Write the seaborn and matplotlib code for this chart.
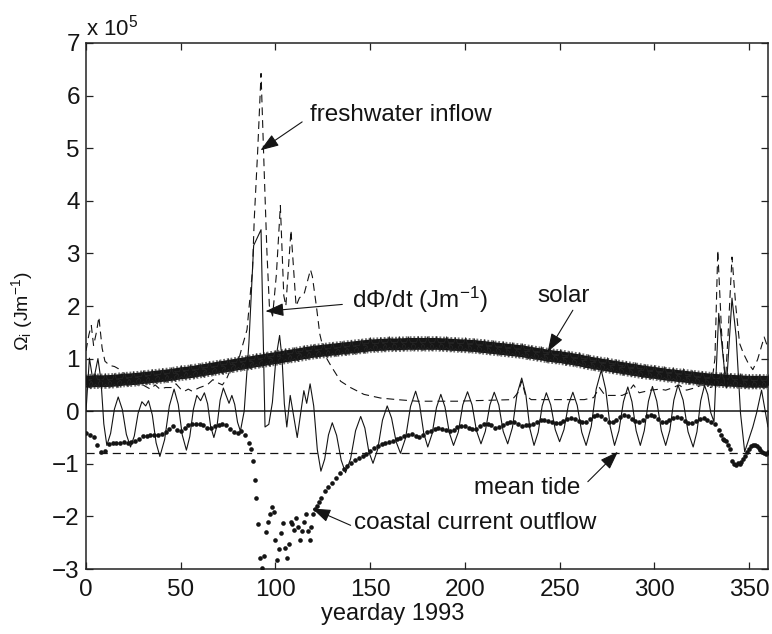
import numpy as np
import matplotlib
matplotlib.use("Agg")
import matplotlib.pyplot as plt
from matplotlib.ticker import FixedLocator, FuncFormatter
import seaborn as sns

# All series below are in units of 1e5 J/m
SCALE = 1e5

# Solar heating term, sampled every 5 days
solar_day = list(range(0, 361, 5))
solar_val = [0.56, 0.57, 0.57, 0.58, 0.60, 0.61, 0.63, 0.65, 0.67, 0.69,
             0.72, 0.74, 0.77, 0.80, 0.83, 0.86, 0.89, 0.92, 0.95, 0.98,
             1.01, 1.04, 1.07, 1.10, 1.13, 1.15, 1.17, 1.19, 1.21, 1.23,
             1.25, 1.26, 1.27, 1.27, 1.28, 1.28, 1.28, 1.28, 1.27, 1.26,
             1.25, 1.24, 1.22, 1.20, 1.18, 1.16, 1.14, 1.11, 1.08, 1.05,
             1.03, 1.00, 0.97, 0.93, 0.90, 0.87, 0.84, 0.81, 0.78, 0.75,
             0.73, 0.70, 0.68, 0.66, 0.64, 0.62, 0.60, 0.59, 0.58, 0.57,
             0.56, 0.56, 0.56]

# Rate of change of potential energy anomaly, dPhi/dt
phi_points = [
    (0, 0.0), (1.8, 1.01), (3.8, 0.55), (6.3, 1.0), (7.9, 0.59), (9.4, -0.24),
    (11, -0.65), (13, -0.42), (15, 0.04), (17, 0.27), (19.2, 0.03), (21.3, -0.44),
    (23.5, -0.68), (25.5, -0.47), (27.5, -0.04), (29.5, 0.18), (31.5, 0.1), (33, 0.2),
    (35, -0.07), (37, -0.6), (39, -0.86), (41.5, -0.54), (44, 0.1), (46.5, 0.42),
    (48.7, 0.13), (50.8, -0.45), (53, -0.74), (54.8, -0.48), (56.7, 0.04), (58.5, 0.3),
    (60.5, 0.2), (62.5, 0.35), (64.2, 0.14), (65.8, -0.29), (67.5, -0.5), (69.2, -0.27),
    (70.8, 0.21), (72.5, 0.44), (75.5, 0.15), (77, 0.3), (78.5, 0.13), (80, -0.21),
    (81.5, -0.38), (83.5, 0.0), (86, 1.3), (88.5, 3.15), (92.4, 3.45), (94.5, -0.3),
    (96.5, -0.25), (98.4, 0.17), (100.3, 1.02), (102.2, 1.44), (103.5, 1.0), (104.7, 0.14),
    (106, -0.3), (107.8, 0.3), (111.5, -0.5), (115, 0.39), (116.5, 0.15), (118.3, 0.52),
    (120.2, 0.1), (122.1, -0.73), (124, -1.14), (126, -0.91), (128, -0.45), (130, -0.22),
    (132.3, -0.46), (134.7, -0.93), (137, -1.17), (139.7, -0.9), (142.3, -0.37), (145, -0.1),
    (147.2, -0.32), (149.3, -0.77), (151.5, -0.99), (154, -0.72), (156.5, -0.17), (159, 0.1),
    (161.3, -0.13), (163.7, -0.58), (166, -0.8), (168.7, -0.51), (171.3, 0.09), (174, 0.38),
    (176.1, 0.12), (178.3, -0.42), (180.4, -0.68), (182.7, -0.43), (185, 0.07), (187.3, 0.32),
    (189.5, 0.08), (191.8, -0.41), (194, -0.65), (196.5, -0.4), (198.9, 0.12), (201.4, 0.37),
    (203.8, 0.12), (206.1, -0.37), (208.5, -0.62), (210.8, -0.38), (213.2, 0.12), (215.5, 0.36),
    (217.9, 0.12), (220.2, -0.38), (222.6, -0.62), (225.1, -0.31), (227.5, 0.32), (230, 0.63),
    (232.2, 0.31), (234.3, -0.33), (236.5, -0.65), (238.7, -0.4), (240.8, 0.1), (243, 0.35),
    (245.3, 0.12), (247.7, -0.35), (250, -0.58), (252.3, -0.35), (254.7, 0.13), (257, 0.36),
    (259.3, 0.11), (261.7, -0.4), (264, -0.65), (266.7, -0.29), (269.3, 0.42), (272, 0.78),
    (274.3, 0.42), (276.7, -0.29), (279, -0.65), (281.3, -0.37), (283.7, 0.18), (286, 0.46),
    (288.2, 0.18), (290.4, -0.37), (292.6, -0.65), (294.7, -0.37), (296.9, 0.19), (299, 0.47),
    (301.3, 0.19), (303.7, -0.37), (306, -0.65), (308.2, -0.36), (310.3, 0.21), (312.5, 0.5),
    (315.2, 0.21), (317.8, -0.39), (320.5, -0.68), (322.5, -0.39), (324.5, 0.2), (326.5, 0.49),
    (328.2, 0.32), (329.8, -0.03), (331.5, -0.2), (334, 1.86), (338, 0.44), (341, 2.15),
    (343.2, 1.42), (345.5, -0.04), (347.7, -0.77), (352, -0.3), (354, -0.03), (356.6, 0.4),
    (360, -0.3),
]

# Freshwater inflow (buoyancy input from river discharge)
fw_points = [
    (0, 1.15), (1.5, 1.45), (2.8, 1.63), (4, 1.25), (5.5, 1.5), (6.8, 1.79), (8.5, 1.2),
    (10, 0.95), (12.5, 0.87), (15, 0.85), (17, 0.81), (19, 0.68), (22, 0.6), (26, 0.58),
    (30, 0.5), (34, 0.42), (36.5, 0.5), (39, 0.42), (42, 0.45), (45, 0.45), (47.5, 0.52),
    (50, 0.42), (52, 0.38), (54, 0.42), (56, 0.38), (60, 0.45), (64, 0.5), (67, 0.6),
    (69, 0.55), (72, 0.5), (74, 0.6), (77, 0.85), (80, 0.9), (82, 1.17), (85, 1.55),
    (87.9, 2.69), (88.8, 3.64), (90.6, 4.93), (92.4, 6.42), (94.1, 4.52), (95.5, 3.03),
    (96.8, 2.0), (98.5, 1.81), (100.5, 2.6), (102.6, 3.91), (104.4, 2.2), (105.5, 2.0),
    (108.2, 3.44), (110.9, 2.0), (112.6, 2.15), (115.3, 2.25), (118.5, 2.69), (119.5, 2.56),
    (121.6, 2.0), (123.4, 1.47), (126, 1.07), (129.5, 0.85), (134.4, 0.57), (139.6, 0.45),
    (146.7, 0.32), (155.5, 0.25), (164.3, 0.22), (175, 0.19), (185.6, 0.19), (196, 0.19),
    (205, 0.2), (215, 0.21), (225, 0.22), (228, 0.35), (230, 0.57), (232, 0.3), (235, 0.22),
    (245, 0.22), (255, 0.22), (263, 0.22), (268, 0.26), (271, 0.45), (274, 0.3), (278, 0.3),
    (283, 0.3), (286, 0.35), (289, 0.5), (292, 0.35), (298, 0.4), (303, 0.42), (306, 0.4),
    (310, 0.45), (313, 0.5), (317, 0.4), (322, 0.45), (325, 0.5), (330, 0.45), (332, 1.0),
    (333.5, 3.06), (335.5, 1.5), (337.5, 0.53), (339, 1.5), (341, 2.93), (343, 2.0),
    (345, 1.29), (347, 1.1), (349.6, 0.91), (352, 0.79), (354.5, 0.98), (358, 1.41), (360, 1.2),
]

# Coastal current outflow (daily estimates; sub-sampled where smooth)
out_day = (list(range(0, 87, 2)) + list(range(87, 125)) +
           list(range(126, 333, 2)) + list(range(334, 361)))
out_val = [
    -0.41, -0.45, -0.49, -0.65, -0.78, -0.76, -0.63, -0.61, -0.6, -0.6,
    -0.59, -0.6, -0.58, -0.57, -0.52, -0.48, -0.47, -0.46, -0.45, -0.46,
    -0.44, -0.39, -0.34, -0.29, -0.35, -0.37, -0.32, -0.27, -0.25, -0.24,
    -0.25, -0.27, -0.31, -0.31, -0.28, -0.26, -0.25, -0.27, -0.33, -0.39,
    -0.41, -0.38, -0.46, -0.6,
    -0.72, -0.95, -1.3, -1.65, -2.15, -2.8, -2.98, -2.75, -2.3, -2.1,
    -1.95, -1.82, -1.92, -2.45, -2.82, -2.62, -2.32, -2.12, -2.6, -2.8,
    -2.52, -2.1, -2.14, -2.26, -2.03, -2.2, -2.45, -2.28, -2.1, -1.95,
    -2.28, -2.45, -2.2, -1.95, -1.85, -1.8, -1.72, -1.65,
    -1.52, -1.44, -1.37, -1.27, -1.18, -1.1, -1.04, -0.98, -0.93, -0.89,
    -0.85, -0.81, -0.76, -0.7, -0.66, -0.63, -0.6, -0.59, -0.56, -0.52,
    -0.5, -0.48, -0.45, -0.44, -0.47, -0.49, -0.45, -0.4, -0.37, -0.34,
    -0.32, -0.33, -0.36, -0.37, -0.35, -0.3, -0.28, -0.28, -0.31, -0.34,
    -0.33, -0.28, -0.25, -0.24, -0.27, -0.31, -0.3, -0.26, -0.22, -0.21,
    -0.21, -0.25, -0.28, -0.27, -0.26, -0.24, -0.2, -0.17, -0.16, -0.18,
    -0.21, -0.23, -0.22, -0.18, -0.14, -0.13, -0.15, -0.19, -0.21, -0.2,
    -0.15, -0.1, -0.08, -0.1, -0.15, -0.2, -0.21, -0.17, -0.11, -0.08,
    -0.09, -0.14, -0.19, -0.2, -0.16, -0.1, -0.08, -0.1, -0.15, -0.2,
    -0.21, -0.17, -0.12, -0.11, -0.13, -0.18, -0.22, -0.22, -0.18, -0.14,
    -0.13, -0.16, -0.21, -0.24,
    -0.35, -0.45, -0.52, -0.55, -0.57, -0.65, -0.72, -0.95, -1.0, -1.02,
    -0.98, -1.0, -0.97, -0.9, -0.85, -0.78, -0.72, -0.67, -0.65, -0.64,
    -0.66, -0.7, -0.74, -0.78, -0.8, -0.82, -0.78,
]

# Mean tidal stirring term
MEAN_TIDE = -0.79

x_ticks = [0, 50, 100, 150, 200, 250, 300, 350]
y_ticks = [-3, -2, -1, 0, 1, 2, 3, 4, 5, 6, 7]

sns.set_theme(style="ticks")
ink = "#141414"
plt.rcParams.update({
    "font.family": ["Liberation Sans", "DejaVu Sans"],
    "mathtext.fontset": "custom",
    "mathtext.rm": "Liberation Sans",
    "mathtext.it": "Liberation Sans:italic",
    "mathtext.default": "regular",
    "axes.edgecolor": "#222222",
    "axes.linewidth": 1.1,
    "xtick.direction": "in",
    "ytick.direction": "in",
    "xtick.top": True,
    "ytick.right": True,
    "xtick.major.size": 5,
    "ytick.major.size": 5,
    "xtick.major.width": 0.9,
    "ytick.major.width": 0.9,
    "xtick.labelsize": 17.5,
    "ytick.labelsize": 17.5,
    "xtick.major.pad": 7.5,
    "ytick.major.pad": 4.5,
    "xtick.color": "#222222",
    "ytick.color": "#222222",
    "xtick.labelcolor": ink,
    "ytick.labelcolor": ink,
    "text.color": ink,
    "axes.labelcolor": ink,
})

fig = plt.figure(figsize=(7.72, 6.34), dpi=100)
ax = fig.add_axes([0.1114, 0.1025, 0.8834, 0.8297])

phi_day, phi_val = zip(*phi_points)
fw_day, fw_val = zip(*fw_points)
solar_y = np.array(solar_val) * SCALE

# reference lines: zero and mean tidal stirring
ax.axhline(0, color=ink, linewidth=1.1, zorder=2)
ax.axhline(MEAN_TIDE * SCALE, color=ink, linewidth=0.9, dashes=(6.5, 4), zorder=2)

# freshwater inflow (dashed)
sns.lineplot(x=list(fw_day), y=np.array(fw_val) * SCALE, ax=ax, color=ink,
             linewidth=0.8, estimator=None, sort=False, zorder=3)
ax.lines[-1].set_dashes((7, 4.5))

# solar heating: a dense band of star markers with a hatched grey fringe
sns.lineplot(x=solar_day, y=solar_y, ax=ax, color="#6e6e6e", linewidth=11,
             estimator=None, sort=False, zorder=4)
ax.lines[-1].set_dashes((0.12, 0.12))
sns.lineplot(x=solar_day, y=solar_y, ax=ax, color="#161616", linewidth=8.5,
             marker="*", markersize=11, markeredgecolor="#2a2a2a",
             markeredgewidth=0.4, estimator=None, sort=False, zorder=4)

# dPhi/dt (thin solid)
sns.lineplot(x=list(phi_day), y=np.array(phi_val) * SCALE, ax=ax, color=ink,
             linewidth=0.8, estimator=None, sort=False, zorder=5)

# coastal current outflow (dots)
sns.scatterplot(x=out_day, y=np.array(out_val) * SCALE, ax=ax, color=ink,
                s=11, linewidth=0, zorder=6)

ax.set_xlim(0, 360)
ax.set_ylim(-3 * SCALE, 7 * SCALE)
ax.xaxis.set_major_locator(FixedLocator(x_ticks))
ax.yaxis.set_major_locator(FixedLocator([v * SCALE for v in y_ticks]))
ax.yaxis.set_major_formatter(FuncFormatter(
    lambda v, _: f"{v / SCALE:.0f}".replace("-", "\u2212")))
ax.xaxis.set_major_formatter(FuncFormatter(lambda v, _: f"{v:.0f}"))

ax.text(0, 1.015, "x 10$^{5}$", transform=ax.transAxes, fontsize=16,
        ha="left", va="baseline")

ax.set_xlabel("yearday 1993", fontsize=17)
ax.xaxis.set_label_coords(0.449, -0.064)
ax.set_ylabel("\u03a9$_{i}$ (Jm$^{-1}$)", fontsize=14)
ax.yaxis.set_label_coords(-0.075, 0.49)

arrow = dict(arrowstyle="-|>,head_length=0.45,head_width=0.16", color=ink,
             lw=0.8, mutation_scale=25, shrinkA=0, shrinkB=0)
labels = [
    ("freshwater inflow", (118, 5.51), (114.1, 5.5), (92.1, 4.96)),
    ("d\u03a6/dt (Jm$^{-1}$)", (140.6, 1.96), (135.3, 2.03), (94.7, 1.9)),
    ("solar", (238.4, 2.08), (257, 1.92), (243.7, 1.13)),
    ("mean tide", (204.9, -1.58), (264.9, -1.34), (280.8, -0.77)),
    ("coastal current outflow", (141.4, -2.23), (139.7, -2.17), (119.4, -1.85)),
]
for text, (tx, ty), (ax0, ay0), (ax1, ay1) in labels:
    ax.text(tx, ty * SCALE, text, fontsize=17.5, ha="left", va="baseline", zorder=8)
    ax.annotate("", xy=(ax1, ay1 * SCALE), xytext=(ax0, ay0 * SCALE),
                arrowprops=arrow, zorder=8)

fig.savefig("out.png", dpi=100)
